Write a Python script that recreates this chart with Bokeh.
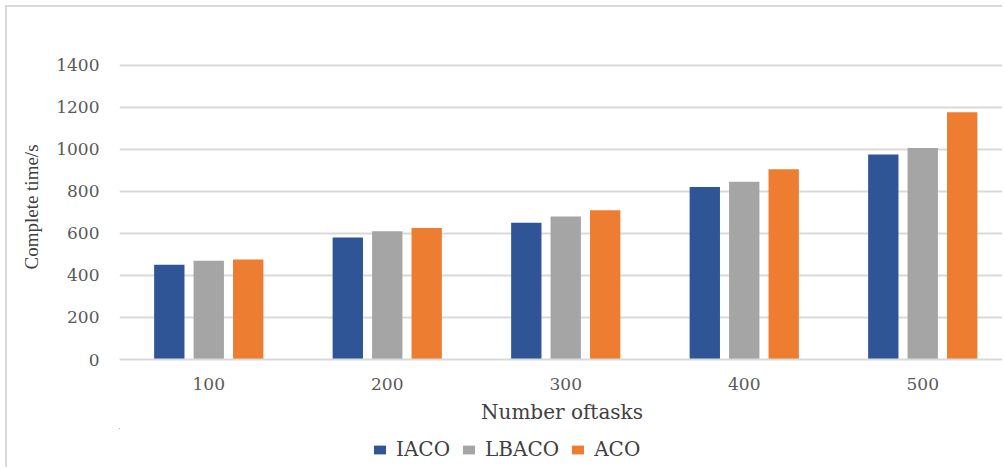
from bokeh.plotting import figure
from bokeh.models import Range1d, FixedTicker, Legend, LegendItem
from bokeh.layouts import column
from bokeh.embed import file_html
from bokeh.resources import INLINE

tasks = [100, 200, 300, 400, 500]
iaco = [450, 580, 650, 820, 975]
lbaco = [470, 610, 680, 845, 1005]
aco = [475, 625, 710, 905, 1175]
series_names = ["IACO", "LBACO", "ACO"]
colors = ["#2F5597", "#A5A5A5", "#ED7D31"]
y_ticks = [0, 200, 400, 600, 800, 1000, 1200, 1400]

OFF = 7  # page margin + border
BORDER = "2px solid #d9d9d9"
MAIN_BOTTOM = 430
FRAME_LEFT = 119
p = figure(width=1004 - OFF, height=MAIN_BOTTOM - OFF, output_backend="svg", toolbar_location=None,
           x_range=Range1d(0, 4.958), y_range=Range1d(0, 1450),
           min_border_left=FRAME_LEFT - OFF, min_border_right=0, min_border_top=54 - OFF,
           min_border_bottom=MAIN_BOTTOM - 359, margin=(5, 0, 0, 5))
p.styles = {"border-top": BORDER, "border-left": BORDER}
p.outline_line_color = None
p.background_fill_color = "white"
p.border_fill_color = "white"

pitch = 0.221
bw = 0.17
series = [iaco, lbaco, aco]
for k, (vals, col) in enumerate(zip(series, colors)):
    xs = [i + 0.5 + (k - 1) * pitch for i in range(len(tasks))]
    p.vbar(x=xs, top=vals, bottom=0, width=bw, fill_color=col, line_color=None)

# axes
p.xaxis.ticker = FixedTicker(ticks=[i + 0.5 for i in range(len(tasks))])
p.xaxis.major_label_overrides = {i + 0.5: str(t) for i, t in enumerate(tasks)}
p.yaxis.ticker = FixedTicker(ticks=y_ticks)
for ax in [p.xaxis, p.yaxis]:
    ax.major_tick_line_color = None
    ax.minor_tick_line_color = None
    ax.major_label_text_font = "DejaVu Serif"
    ax.major_label_text_font_size = "17px"
    ax.major_label_text_color = "#595959"
    ax.axis_label_text_font_style = "normal"
p.yaxis.axis_line_color = None
p.xaxis.axis_line_color = "#d9d9d9"
p.xaxis.axis_line_width = 2
p.xaxis.major_label_standoff = 12
p.yaxis.major_label_standoff = 14

p.xaxis.axis_label = "Number oftasks"
p.xaxis.axis_label_text_font = "DejaVu Serif"
p.xaxis.axis_label_text_font_size = "20px"
p.xaxis.axis_label_text_color = "#404040"
p.xaxis.axis_label_standoff = 7

p.yaxis.axis_label = "Complete time/s"
p.yaxis.axis_label_text_font = "Liberation Serif"
p.yaxis.axis_label_text_font_size = "19px"
p.yaxis.axis_label_text_color = "#404040"
p.yaxis.axis_label_standoff = 11

p.xgrid.grid_line_color = None
p.ygrid.grid_line_color = "#d9d9d9"
p.ygrid.grid_line_width = 2

# legend strip: a second figure whose bars (kept outside its view) carry the series colours
LH = 469 - MAIN_BOTTOM
p2 = figure(width=1004 - OFF, height=LH, output_backend="svg", toolbar_location=None,
            x_range=Range1d(100, 101), y_range=Range1d(-2000, -1000),
            min_border=0, margin=(0, 0, 0, 5))
p2.styles = {"border-left": BORDER}
p2.outline_line_color = None
p2.axis.visible = False
p2.grid.visible = False
rs = []
for k, (vals, col) in enumerate(zip(series, colors)):
    xs = [i + 0.5 + (k - 1) * pitch for i in range(len(tasks))]
    rs.append(p2.vbar(x=xs, top=vals, bottom=0, width=bw, fill_color=col, line_color=None))
legend = Legend(items=[LegendItem(label=n, renderers=[r], index=0) for n, r in zip(series_names, rs)],
                orientation="horizontal", location=(372 - FRAME_LEFT, 6),
                glyph_width=15, glyph_height=11, label_height=15,
                label_standoff=9, spacing=11, padding=0, margin=0,
                border_line_color=None, background_fill_alpha=0,
                label_text_font="DejaVu Serif", label_text_font_size="20px",
                label_text_color="#404040")
p2.add_layout(legend, "center")

layout = column(p, p2, spacing=0)
open("out.html", "w").write(file_html(layout, INLINE))
